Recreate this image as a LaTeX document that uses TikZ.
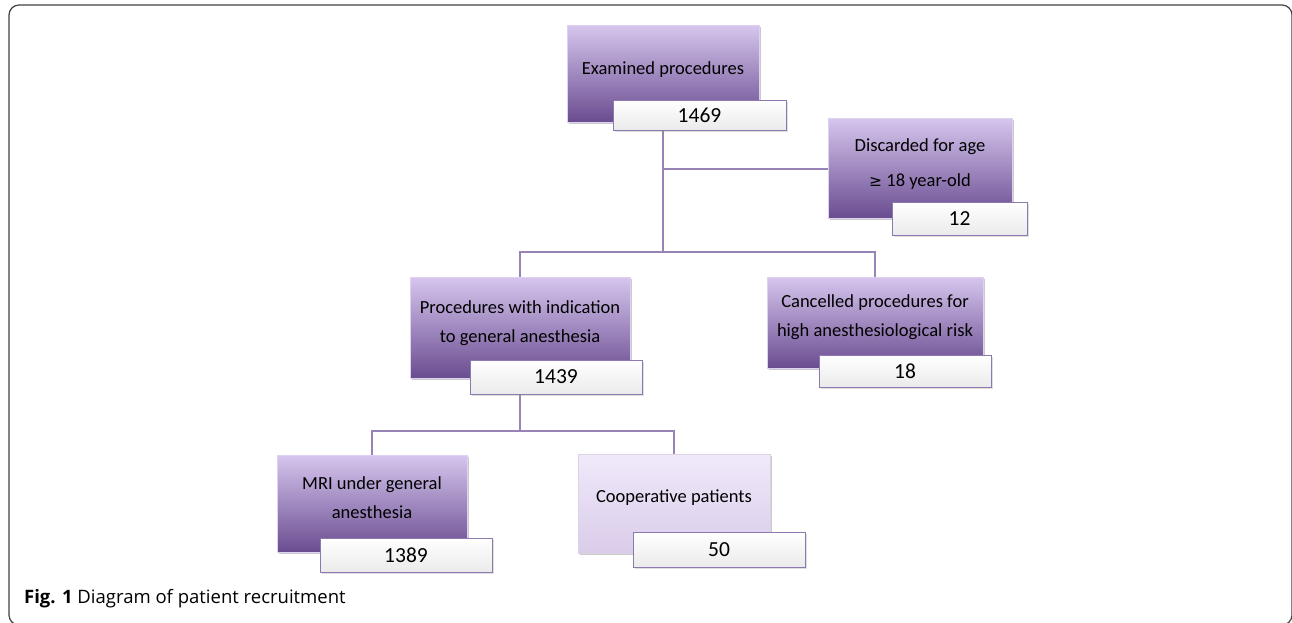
\documentclass[tikz,border=0pt]{standalone}
\usepackage{fontspec}
\setmainfont{Carlito}
\newfontfamily\capfont{Open Sans}
\usetikzlibrary{shadows}
\definecolor{topv}{HTML}{D6C6EE}
\definecolor{botv}{HTML}{6A4C90}
\definecolor{topl}{HTML}{F1E9FB}
\definecolor{botl}{HTML}{D9CCEA}
\definecolor{conn}{HTML}{9783B5}
\definecolor{numedge}{HTML}{8C7AAE}
\tikzset{
  bigbox/.style={rectangle, inner sep=0pt, draw=topv!80!white, line width=0.6pt,
    top color=topv, bottom color=botv,
    drop shadow={shadow xshift=2pt, shadow yshift=-2pt, opacity=0.35, fill=black!60}},
  lightbox/.style={bigbox, top color=topl, bottom color=botl, draw=topl!80!gray},
  numbox/.style={rectangle, inner sep=0pt, draw=numedge, line width=0.7pt,
    top color=white, bottom color=black!8,
    drop shadow={shadow xshift=2pt, shadow yshift=-2pt, opacity=0.25, fill=black!50},
    font=\fontsize{21.5}{24}\selectfont},
  boxtext/.style={align=center, inner sep=0pt, font=\fontsize{18.5}{29}\selectfont},
  link/.style={draw=conn, line width=2.2pt}
}
\begin{document}
\begin{tikzpicture}[x=1pt,y=-1pt]
\useasboundingbox (0,0) rectangle (1292,622);
\node (frame) [draw=black!75, line width=1.2pt, rounded corners=10pt, minimum width=1283pt, minimum height=620pt, inner sep=0pt] at (650.5,315) {};
\coordinate (j0) at (663,169);
\coordinate (j1) at (663,252);
\coordinate (j2) at (520,431);
% boxes
\node (b1) [bigbox, minimum width=192pt, minimum height=97pt] at (663,73.5) {};
\node (b2) [bigbox, minimum width=184pt, minimum height=100pt] at (920,168) {};
\node (b3) [bigbox, minimum width=220pt, minimum height=101pt] at (520,327.5) {};
\node (b4) [bigbox, minimum width=216pt, minimum height=91pt] at (875,322.5) {};
\node (b5) [bigbox, minimum width=190pt, minimum height=97pt] at (372,503.5) {};
\node (b6) [lightbox, minimum width=192pt, minimum height=99pt] at (674,503.5) {};
% connectors
\draw[link] (b1.south) -- (j1);
\draw[link] (j0) -- (j0 -| b2.west);
\draw[link] (b3.north) |- (j1) -| (b4.north);
\draw[link] (b3.south) -- (j2);
\draw[link] (b5.north) |- (j2) -| (b6.north);
% texts
\node (t1) [boxtext] at (663,70) {Examined procedures};
\node (t2) [boxtext] at (920,164.5) {Discarded for age\\[6pt]{\fontspec{DejaVu Sans}\fontsize{15.5}{16}\selectfont ≥} 18 year-old};
\node (t3) [boxtext] at (520,323) {Procedures with indication\\to general anesthesia};
\node (t4) [boxtext] at (875,317.5) {Cancelled procedures for\\high anesthesiological risk};
\node (t5) [boxtext] at (372,497.5) {MRI under general\\anesthesia};
\node (t6) [boxtext] at (674,498) {Cooperative patients};
% number boxes
\node (n1) [numbox, minimum width=173pt, minimum height=30pt] at (699.5,115) {1469};
\node (n2) [numbox, minimum width=135pt, minimum height=33pt] at (959.5,218.5) {12};
\node (n3) [numbox, minimum width=172pt, minimum height=34pt] at (556,377) {1439};
\node (n4) [numbox, minimum width=172pt, minimum height=32pt] at (905,371) {18};
\node (n5) [numbox, minimum width=172pt, minimum height=34pt] at (406,555) {1389};
\node (n6) [numbox, minimum width=172pt, minimum height=35pt] at (719,549.5) {50};
% caption
\node (cap) [anchor=west, inner sep=0pt, font=\capfont\fontsize{18.5}{20}\selectfont] at (24,599) {\textbf{Fig. 1} Diagram of patient recruitment};
\end{tikzpicture}
\end{document}
